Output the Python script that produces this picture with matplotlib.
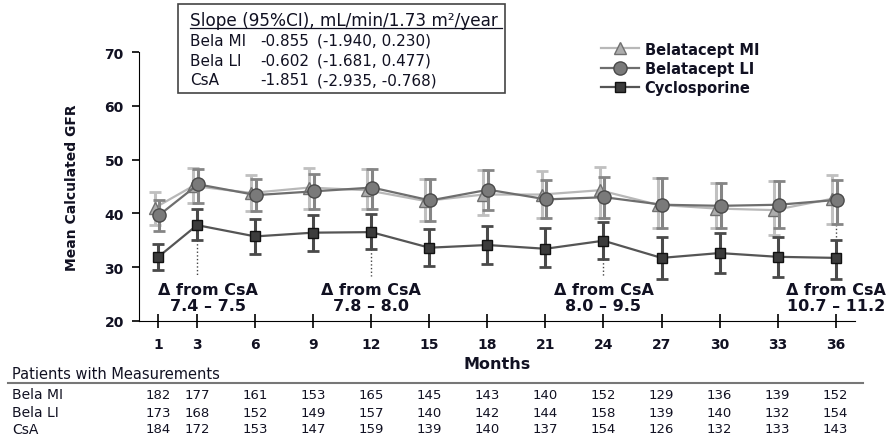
import numpy as np
import matplotlib.pyplot as plt
import matplotlib.transforms as mtransforms
from matplotlib.patches import Rectangle
from matplotlib.lines import Line2D

plt.rcParams["font.family"] = ["DejaVu Sans"]

months = [1, 3, 6, 9, 12, 15, 18, 21, 24, 27, 30, 33, 36]

# mean GFR values
mi_mean = [41.0, 45.1, 43.8, 44.8, 44.3, 42.3, 43.5, 43.5, 44.3, 41.6, 40.9, 40.6, 42.7]
mi_low = [37.8, 42.0, 40.4, 40.8, 40.9, 38.6, 39.6, 39.1, 39.2, 37.2, 37.2, 35.9, 38.0]
mi_high = [44.0, 48.5, 47.1, 48.5, 48.2, 46.4, 48.0, 47.9, 48.6, 46.5, 45.6, 46.0, 47.1]

li_mean = [39.7, 45.4, 43.4, 44.1, 44.8, 42.4, 44.4, 42.6, 43.0, 41.6, 41.4, 41.6, 42.5]
li_low = [36.8, 42.0, 40.4, 40.8, 40.9, 38.6, 40.6, 39.1, 39.2, 37.2, 37.2, 37.2, 38.0]
li_high = [42.5, 48.3, 46.4, 47.3, 48.2, 46.4, 48.0, 46.3, 46.7, 46.5, 45.6, 46.0, 46.3]

csa_mean = [31.9, 37.8, 35.7, 36.4, 36.5, 33.6, 34.1, 33.4, 34.9, 31.7, 32.6, 31.9, 31.7]
csa_low = [29.5, 35.0, 32.4, 33.0, 33.3, 30.2, 30.6, 30.0, 31.5, 27.8, 28.8, 28.1, 27.8]
csa_high = [34.3, 40.9, 38.9, 39.7, 39.9, 37.0, 37.7, 37.2, 38.3, 35.6, 36.4, 35.6, 35.1]

n_mi = [182, 177, 161, 153, 165, 145, 143, 140, 152, 129, 136, 139, 152]
n_li = [173, 168, 152, 149, 157, 140, 142, 144, 158, 139, 140, 132, 154]
n_csa = [184, 172, 153, 147, 159, 139, 140, 137, 154, 126, 132, 133, 143]

slope_rows = ["Bela MI", "Bela LI", "CsA"]
slope_vals = ["-0.855", "-0.602", "-1.851"]
slope_ci = ["(-1.940, 0.230)", "(-1.681, 0.477)", "(-2.935, -0.768)"]

delta_month = [3.55, 12, 24, 36]
delta_text = ["7.4 \u2013 7.5", "7.8 \u2013 8.0", "8.0 \u2013 9.5", "10.7 \u2013 11.2"]
dot_x = [3, 12, 24, 36]
dot_y0 = [35.0, 33.3, 31.5, 35.6]
dot_y1 = [28.4, 28.4, 28.4, 37.9]

txt = "#111122"

fig = plt.figure(figsize=(8.89, 4.39), dpi=100)
ax = fig.add_axes([0.1564, 0.2672, 0.8054, 0.6114])

x = np.array(months, dtype=float)

def draw(xs, mean, low, high, lc, ec, mfc, mec, marker, ms, z, label):
    mean = np.array(mean)
    err = [mean - np.array(low), np.array(high) - mean]
    ax.errorbar(xs, mean, yerr=err, fmt="none", ecolor=ec, elinewidth=2.2,
                capsize=4, capthick=2, zorder=z)
    ax.plot(xs, mean, color=lc, lw=1.6, marker=marker, ms=ms, mfc=mfc,
            mec=mec, mew=1, zorder=z + 0.5, label=label)

draw(x - 0.2, mi_mean, mi_low, mi_high, "#b8b8b8", "#c0c0c0", "#adadad", "#707070", "^", 8, 2, "Belatacept MI")
draw(x + 0.05, li_mean, li_low, li_high, "#6e6e6e", "#858585", "#7a7a7a", "#4a4a4a", "o", 9.5, 3, "Belatacept LI")
draw(x, csa_mean, csa_low, csa_high, "#555555", "#4a4a4a", "#3c3c3c", "#111111", "s", 7.5, 4, "Cyclosporine")

for xd, y0, y1 in zip(dot_x, dot_y0, dot_y1):
    ax.plot([xd, xd], [y0, y1], ls=":", color="#444444", lw=1, zorder=1)

for xm, t in zip(delta_month, delta_text):
    ax.text(xm, 25.9, "\u0394 from CsA", ha="center", va="center", fontsize=11.5,
            fontweight="bold", color=txt, clip_on=False)
    ax.text(xm, 22.9, t, ha="center", va="center", fontsize=11.5,
            fontweight="bold", color=txt, clip_on=False)

ax.set_xlim(0, 37)
ax.set_ylim(20, 70)
ax.set_xticks(months)
ax.set_yticks([20, 30, 40, 50, 60, 70])
ax.spines["top"].set_visible(False)
ax.spines["right"].set_visible(False)
ax.spines["left"].set_bounds(20, 70)
ax.tick_params(axis="x", direction="inout", length=10, width=1.2, pad=7, labelsize=10)
ax.tick_params(axis="y", direction="out", length=5, width=1.2, pad=6, labelsize=10)
for lab in ax.get_xticklabels() + ax.get_yticklabels():
    lab.set_fontweight("bold")
    lab.set_color(txt)
ax.set_xlabel("Months", fontsize=11.5, fontweight="bold", color=txt, labelpad=3)
ax.set_ylabel("Mean Calculated GFR", fontsize=10, fontweight="bold", color=txt, labelpad=18)

leg = fig.legend(loc="upper left", bbox_to_anchor=(0.676, 0.903), frameon=False,
                 prop={"weight": "bold", "size": 10.5}, handlelength=2.6,
                 handletextpad=0.4, labelspacing=0.3, borderpad=0, borderaxespad=0)
for t in leg.get_texts():
    t.set_color(txt)

# slope box
fig.patches.append(Rectangle((0.2002, 0.7859), 0.3678, 0.2027, transform=fig.transFigure,
                             fill=False, edgecolor="#444444", lw=1.2))
fig.text(0.2137, 0.952, "Slope (95%CI), mL/min/1.73 m\u00b2/year", fontsize=12.2,
         va="center", ha="left", color=txt)
fig.add_artist(Line2D([0.2137, 0.565], [0.934, 0.934], transform=fig.transFigure,
                      color=txt, lw=0.9))
for i, yy in enumerate([0.9066, 0.861, 0.8155]):
    fig.text(0.2137, yy, slope_rows[i], fontsize=11, va="center", color=txt)
    fig.text(0.2925, yy, slope_vals[i], fontsize=11, va="center", color=txt)
    fig.text(0.357, yy, slope_ci[i], fontsize=11, va="center", color=txt)

# patients table
tr = mtransforms.blended_transform_factory(ax.transData, fig.transFigure)
fig.text(0.0135, 0.1458, "Patients with Measurements", fontsize=10.5, va="center", color=txt)
fig.add_artist(Line2D([0.009, 0.971], [0.1264, 0.1264], transform=fig.transFigure,
                      color="#777777", lw=1.5))
for lab, counts, yy in zip(slope_rows, [n_mi, n_li, n_csa], [0.100, 0.0592, 0.0216]):
    fig.text(0.0135, yy, lab, fontsize=10, va="center", color=txt)
    for m, c in zip(months, counts):
        ax.text(m, yy, str(c), transform=tr, fontsize=9.5, ha="center", va="center",
                color=txt, clip_on=False)

fig.savefig("out.png", dpi=100)
